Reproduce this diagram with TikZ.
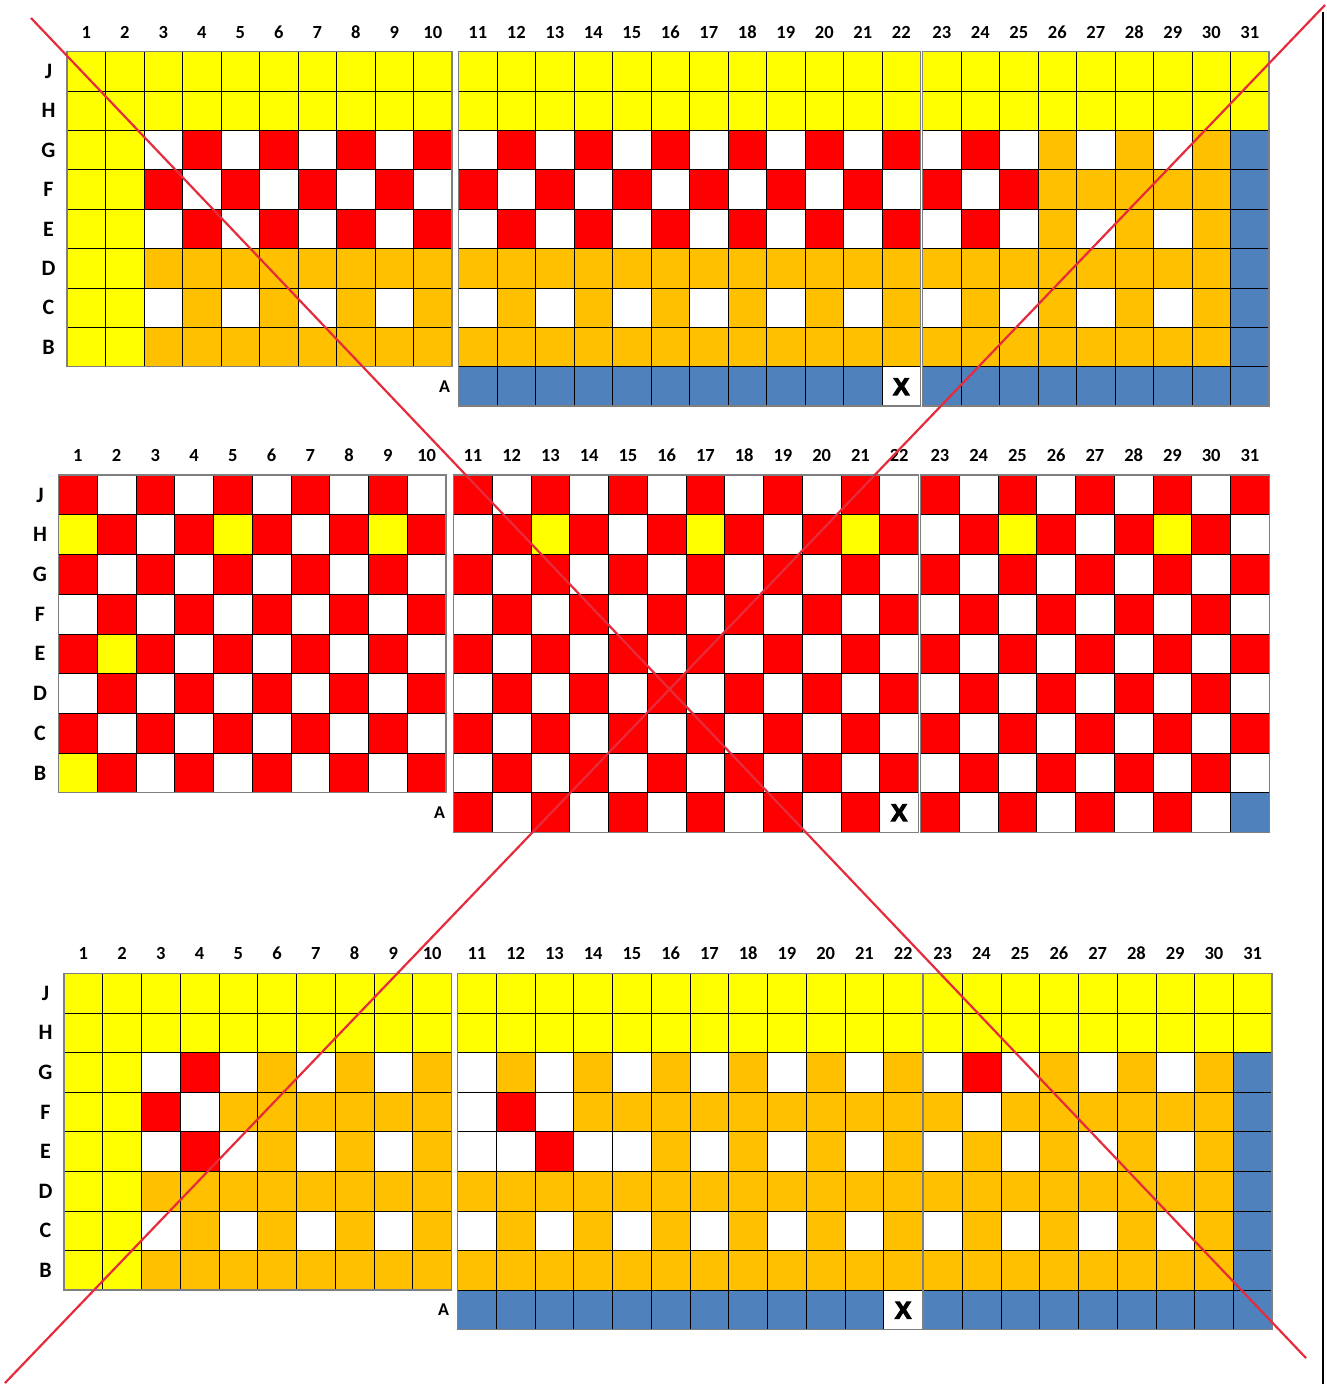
\documentclass[tikz,border=0pt]{standalone}
\usepackage{fontspec}
\setmainfont{Carlito}
\newfontfamily\xmarkfont[FakeBold=5]{Liberation Sans Bold}
\usepackage{tikz}
\definecolor{LoomYellow}{HTML}{FFFF00}
\definecolor{LoomRed}{HTML}{FF0000}
\definecolor{LoomOrange}{HTML}{FFC000}
\definecolor{LoomBlue}{HTML}{4F81BD}
\definecolor{CrossRed}{HTML}{E52B3C}
\definecolor{EdgeGrey}{HTML}{7F7F7F}

% #1 name, #2 x of col 1, #3 x of col 11, #4 x of col 23, #5 top, #6 cell width, #7 cell height, #8 rows
\newcommand{\loomgrid}[8]{%
  \foreach \rl/\cols [count=\r from 0] in {#8}{%
    \pgfmathsetmacro\cy{#5+(\r+0.5)*#7}
    \foreach \k [count=\c] in \cols{%
      \if\k N\else
        \pgfmathsetmacro\cx{\c<11 ? #2+(\c-0.5)*#6 : (\c<23 ? #3+(\c-10.5)*#6 : #4+(\c-22.5)*#6)}
        \node[cell, minimum width=#6, minimum height=#7, cell\k] (#1-\rl-\c) at (\cx,\cy) {\if\k XX\fi};
      \fi
    }
    \if\rl A
      \node[alabel] (#1-lab-\rl) at (#3-14,\cy) {\rl};
    \else
      \node[rowlet] (#1-lab-\rl) at (#2-18.5,\cy) {\rl};
    \fi
  }
  \foreach \c in {1,...,31}{%
    \pgfmathsetmacro\cx{\c<11 ? #2+(\c-0.5)*#6 : (\c<23 ? #3+(\c-10.5)*#6 : #4+(\c-22.5)*#6)}
    \node[colnum] (#1-num-\c) at (\cx,#5-19.5) {\c};
  }
  \draw[edge] (#1-J-1.north west) rectangle (#1-B-10.south east);
  \draw[edge] (#1-J-11.north west) rectangle (#1-A-22.south east);
  \draw[edge] (#1-J-23.north west) rectangle (#1-A-31.south east);
}

\begin{document}
\begin{tikzpicture}[x=1pt, y=-1pt,
    cell/.style={rectangle, draw=black, line width=0.6pt, inner sep=0pt, outer sep=0pt},
    cellY/.style={fill=LoomYellow}, cellR/.style={fill=LoomRed},
    cellO/.style={fill=LoomOrange}, cellB/.style={fill=LoomBlue},
    cellW/.style={fill=white},
    cellX/.style={fill=white, font=\xmarkfont\fontsize{24}{24}\selectfont,
      text height=17pt, text depth=0pt},
    colnum/.style={font=\bfseries\fontsize{18.5}{18.5}\selectfont, inner sep=0pt,
      text height=12pt, text depth=0pt},
    rowlet/.style={font=\bfseries\fontsize{22}{22}\selectfont, inner sep=0pt,
      text height=14.5pt, text depth=0pt},
    alabel/.style={font=\bfseries\fontsize{18}{18}\selectfont, inner sep=0pt,
      text height=11.5pt, text depth=0pt},
    edge/.style={draw=EdgeGrey, line width=1.4pt},
    crossline/.style={CrossRed, line width=2.2pt}]
  \useasboundingbox (0,0) rectangle (1326,1384);

  % top grid
  \loomgrid{top}{67}{458.5}{922.5}{51.5}{38.5}{39.4}{%
    J/{Y,Y,Y,Y,Y,Y,Y,Y,Y,Y, Y,Y,Y,Y,Y,Y,Y,Y,Y,Y,Y,Y, Y,Y,Y,Y,Y,Y,Y,Y,Y},
    H/{Y,Y,Y,Y,Y,Y,Y,Y,Y,Y, Y,Y,Y,Y,Y,Y,Y,Y,Y,Y,Y,Y, Y,Y,Y,Y,Y,Y,Y,Y,Y},
    G/{Y,Y,W,R,W,R,W,R,W,R, W,R,W,R,W,R,W,R,W,R,W,R, W,R,W,O,W,O,W,O,B},
    F/{Y,Y,R,W,R,W,R,W,R,W, R,W,R,W,R,W,R,W,R,W,R,W, R,W,R,O,O,O,O,O,B},
    E/{Y,Y,W,R,W,R,W,R,W,R, W,R,W,R,W,R,W,R,W,R,W,R, W,R,W,O,W,O,W,O,B},
    D/{Y,Y,O,O,O,O,O,O,O,O, O,O,O,O,O,O,O,O,O,O,O,O, O,O,O,O,O,O,O,O,B},
    C/{Y,Y,W,O,W,O,W,O,W,O, W,O,W,O,W,O,W,O,W,O,W,O, W,O,W,O,W,O,W,O,B},
    B/{Y,Y,O,O,O,O,O,O,O,O, O,O,O,O,O,O,O,O,O,O,O,O, O,O,O,O,O,O,O,O,B},
    A/{N,N,N,N,N,N,N,N,N,N, B,B,B,B,B,B,B,B,B,B,B,X, B,B,B,B,B,B,B,B,B}}

  % middle grid
  \loomgrid{mid}{58.5}{453.5}{920.5}{475}{38.75}{39.7}{%
    J/{R,W,R,W,R,W,R,W,R,W, R,W,R,W,R,W,R,W,R,W,R,W, R,W,R,W,R,W,R,W,R},
    H/{Y,R,W,R,Y,R,W,R,Y,R, W,R,Y,R,W,R,Y,R,W,R,Y,R, W,R,Y,R,W,R,Y,R,W},
    G/{R,W,R,W,R,W,R,W,R,W, R,W,R,W,R,W,R,W,R,W,R,W, R,W,R,W,R,W,R,W,R},
    F/{W,R,W,R,W,R,W,R,W,R, W,R,W,R,W,R,W,R,W,R,W,R, W,R,W,R,W,R,W,R,W},
    E/{R,Y,R,W,R,W,R,W,R,W, R,W,R,W,R,W,R,W,R,W,R,W, R,W,R,W,R,W,R,W,R},
    D/{W,R,W,R,W,R,W,R,W,R, W,R,W,R,W,R,W,R,W,R,W,R, W,R,W,R,W,R,W,R,W},
    C/{R,W,R,W,R,W,R,W,R,W, R,W,R,W,R,W,R,W,R,W,R,W, R,W,R,W,R,W,R,W,R},
    B/{Y,R,W,R,W,R,W,R,W,R, W,R,W,R,W,R,W,R,W,R,W,R, W,R,W,R,W,R,W,R,W},
    A/{N,N,N,N,N,N,N,N,N,N, R,W,R,W,R,W,R,W,R,W,R,X, R,W,R,W,R,W,R,W,B}}

  % bottom grid
  \loomgrid{bot}{64}{457.5}{923.3}{973.3}{38.75}{39.6}{%
    J/{Y,Y,Y,Y,Y,Y,Y,Y,Y,Y, Y,Y,Y,Y,Y,Y,Y,Y,Y,Y,Y,Y, Y,Y,Y,Y,Y,Y,Y,Y,Y},
    H/{Y,Y,Y,Y,Y,Y,Y,Y,Y,Y, Y,Y,Y,Y,Y,Y,Y,Y,Y,Y,Y,Y, Y,Y,Y,Y,Y,Y,Y,Y,Y},
    G/{Y,Y,W,R,W,O,W,O,W,O, W,O,W,O,W,O,W,O,W,O,W,O, W,R,W,O,W,O,W,O,B},
    F/{Y,Y,R,W,O,O,O,O,O,O, W,R,W,O,O,O,O,O,O,O,O,O, O,W,O,O,O,O,O,O,B},
    E/{Y,Y,W,R,W,O,W,O,W,O, W,W,R,W,W,O,W,O,W,O,W,O, W,O,W,O,W,O,W,O,B},
    D/{Y,Y,O,O,O,O,O,O,O,O, O,O,O,O,O,O,O,O,O,O,O,O, O,O,O,O,O,O,O,O,B},
    C/{Y,Y,W,O,W,O,W,O,W,O, W,O,W,O,W,O,W,O,W,O,W,O, W,O,W,O,W,O,W,O,B},
    B/{Y,Y,O,O,O,O,O,O,O,O, O,O,O,O,O,O,O,O,O,O,O,O, O,O,O,O,O,O,O,O,B},
    A/{N,N,N,N,N,N,N,N,N,N, B,B,B,B,B,B,B,B,B,B,B,X, B,B,B,B,B,B,B,B,B}}

  % rule on the right and the big cross
  \coordinate (rule top) at (1322.7,12);
  \coordinate (rule bottom) at (1322.7,1384);
  \draw[line width=2.4pt] (rule top) -- (rule bottom);
  \coordinate (cross nw) at (31,18);
  \coordinate (cross se) at (1306,1358);
  \coordinate (cross ne) at (1325,5);
  \coordinate (cross sw) at (5,1383);
  \draw[crossline] (cross nw) -- (cross se);
  \draw[crossline] (cross ne) -- (cross sw);
\end{tikzpicture}
\end{document}
